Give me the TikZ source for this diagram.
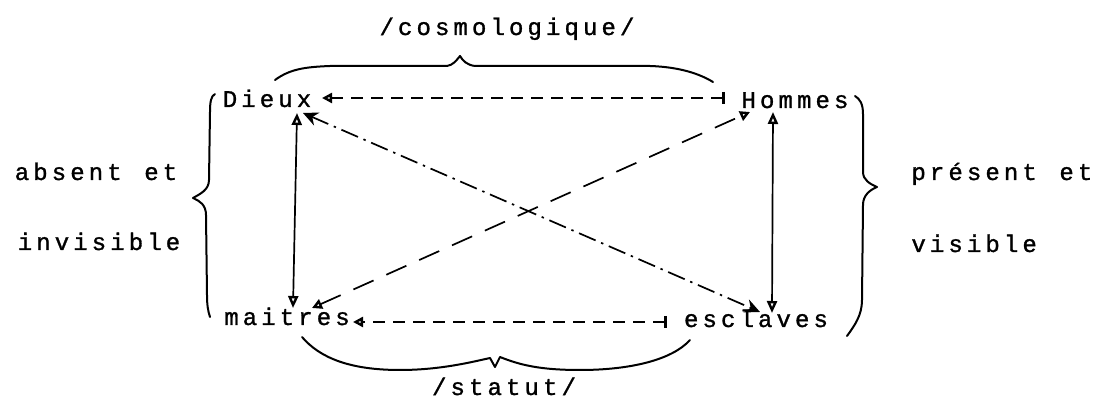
\documentclass[tikz,border=0pt]{standalone}
\usepackage{fontspec}
\newfontfamily\tw[FakeBold=1.2]{Liberation Mono}
\usetikzlibrary{arrows.meta}
\makeatletter
\newcommand\spc[1]{\@tfor\spc@c:=#1\do{\makebox[9.25pt]{\spc@c}}}
\makeatother
\newcommand\gp{\hbox to 9.25pt{}}
\begin{document}
\begin{tikzpicture}[x=0.5pt,y=-0.5pt,
  lbl/.style={font=\tw\fontsize{12pt}{14pt}\selectfont, inner sep=0pt, anchor=base},
  conn/.style={line width=0.85pt},
  brace/.style={line width=1pt, line cap=round, line join=round},
  dsh/.style={conn, dash pattern=on 6pt off 4pt},
  ddot/.style={conn, dash pattern=on 9pt off 3pt on 1.2pt off 3pt},
  ldash/.style={conn, dash pattern=on 11pt off 7pt},
  ohead/.tip={Triangle[open,length=5pt,width=5pt,line width=1.2pt]},
  vhead/.tip={Triangle[open,length=6pt,width=5pt,line width=1.2pt]},
  shead/.tip={Stealth[length=7.5pt,width=7pt]},
  bar/.tip={Bar[width=6pt,line width=1.4pt]}
]
\useasboundingbox (0,0) rectangle (1104,400);

% labels
\node[lbl] (cosmo) at (507,35) {\spc{/cosmologique/}};
\node[lbl] (dieux) at (267,107) {\spc{Dieux}};
\node[lbl] (hommes) at (795,108) {\spc{Hommes}};
\node[lbl] (maitres) at (287,325) {\spc{maitres}};
\node[lbl] (esclaves) at (756,327) {\spc{esclaves}};
\node[lbl] (statut) at (504,395) {\spc{/statut/}};
\node[lbl] (absent) at (96,180) {\spc{absent\gp et}};
\node[lbl] (invis) at (99,250) {\spc{invisible}};
\node[lbl,anchor=base west] (present) at (909,180) {\spc{présent\gp et}};
\node[lbl,anchor=base west] (visible) at (909,252) {\spc{visible}};

% connector end points
\coordinate (dH) at (322,98);
\coordinate (hB) at (725,98);
\coordinate (mH) at (353,322);
\coordinate (eB) at (667,322);
\coordinate (dS) at (297,113);
\coordinate (mN) at (293,308);
\coordinate (hS) at (773,112);
\coordinate (eN) at (772,313);
\coordinate (dD) at (303,113);
\coordinate (eD) at (760,312);
\coordinate (mD) at (312,308);
\coordinate (hD) at (750,112);

% connectors
\draw[dsh, bar-ohead] (hB) -- (dH);
\draw[dsh, bar-ohead] (eB) -- (mH);
\draw[conn, vhead-vhead] (dS) -- (mN);
\draw[conn, vhead-vhead] (hS) -- (eN);
\draw[ddot, shead-shead] (dD) -- (eD);
\draw[ldash, ohead-ohead] (mD) -- (hD);

% braces
\draw[brace] (275,80) .. controls (290,69) and (305,67) .. (330,66) -- (447,66)
  .. controls (453,65) and (456,61) .. (460,56)
  .. controls (463,61) and (467,65) .. (475,66) -- (650,66)
  .. controls (680,67) and (700,74) .. (713,82);
\draw[brace] (302,337) .. controls (320,358) and (350,370) .. (400,370)
  .. controls (440,370) and (472,362) .. (490,358) -- (495,367) -- (500,357)
  .. controls (520,365) and (540,370) .. (580,370)
  .. controls (630,370) and (672,360) .. (690,340);
\draw[brace] (215,94) .. controls (211,96) and (210,102) .. (210,112) -- (209,180)
  .. controls (209,190) and (200,194) .. (193,198)
  .. controls (200,201) and (206,205) .. (206,215) -- (207,295)
  .. controls (207,305) and (208,311) .. (210,317);
\draw[brace] (855,96) .. controls (860,99) and (863,104) .. (863,114) -- (863,172)
  .. controls (863,180) and (870,184) .. (877,187)
  .. controls (870,190) and (863,195) .. (863,205) -- (862,300)
  .. controls (862,315) and (855,325) .. (847,336);
\end{tikzpicture}
\end{document}
